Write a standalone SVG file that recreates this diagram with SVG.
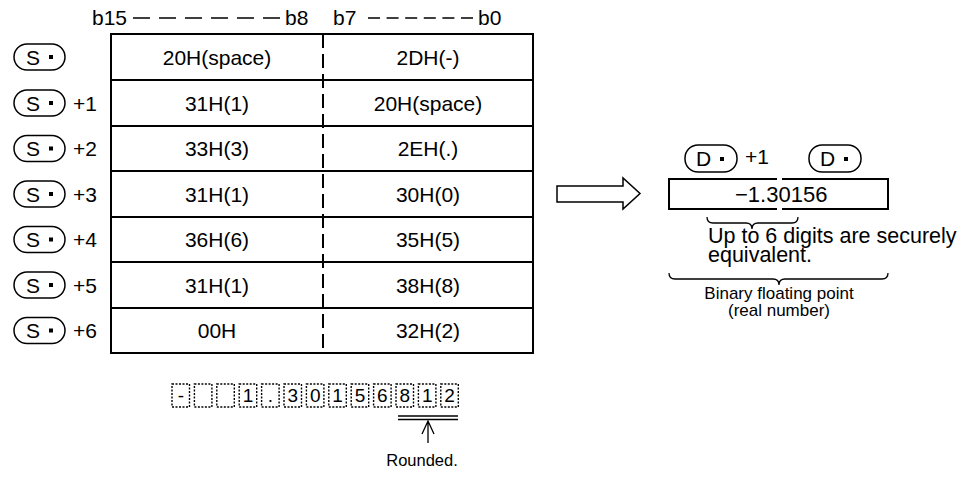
<svg xmlns="http://www.w3.org/2000/svg" width="974" height="477" viewBox="0 0 974 477">
<style>
text{font-family:"Liberation Sans",Arial,sans-serif;font-size:21px;fill:#000}
.c{text-anchor:middle}
.ln{stroke:#000;stroke-width:2;fill:none}
.thin{stroke:#000;stroke-width:1.3;fill:none}
.pill{fill:#fff;stroke:#000;stroke-width:1.5}
.dot{fill:#000}
.db{fill:#fff;stroke:#000;stroke-width:1.4;stroke-dasharray:2 1.5}
.dg{font-size:19px;text-anchor:middle}
.sm{font-size:16.5px}
.md{font-size:17px}
</style>
<defs>
<g id="spill">
<rect x="0" y="-13" width="51" height="26" rx="13" class="pill"/>
<text x="12" y="7.5">S</text>
<rect x="35" y="-2" width="4" height="4" class="dot"/>
</g>
<g id="dpill">
<rect x="0" y="-13" width="52" height="27" rx="13" class="pill"/>
<text x="11" y="8">D</text>
<rect x="35" y="-1" width="4" height="4" class="dot"/>
</g>
</defs>
<rect width="974" height="477" fill="#fff"/>

<g id="header">
<text x="92" y="25">b15</text>
<line x1="133" y1="18" x2="280" y2="18" stroke="#000" stroke-width="1.5" stroke-dasharray="17 9"/>
<text x="285" y="25">b8</text>
<text x="333" y="25">b7</text>
<line x1="368" y1="18" x2="473" y2="18" stroke="#000" stroke-width="1.5" stroke-dasharray="12 6.6"/>
<text x="478" y="25">b0</text>
</g>

<g id="table">
<path class="ln" d="M111,34 H533 V353 H111 Z"/>
<path class="ln" d="M111,80 H533 M111,126 H533 M111,171 H533 M111,217 H533 M111,262 H533 M111,308 H533"/>
<line x1="323" y1="34" x2="323" y2="353" class="ln" stroke-dasharray="14 6"/>
<text class="c" x="217" y="64.5">20H(space)</text><text class="c" x="428" y="64.5">2DH(-)</text>
<text class="c" x="217" y="110.5">31H(1)</text><text class="c" x="428" y="110.5">20H(space)</text>
<text class="c" x="217" y="156">33H(3)</text><text class="c" x="428" y="156">2EH(.)</text>
<text class="c" x="217" y="201.5">31H(1)</text><text class="c" x="428" y="201.5">30H(0)</text>
<text class="c" x="217" y="247">36H(6)</text><text class="c" x="428" y="247">35H(5)</text>
<text class="c" x="217" y="292.5">31H(1)</text><text class="c" x="428" y="292.5">38H(8)</text>
<text class="c" x="217" y="338">00H</text><text class="c" x="428" y="338">32H(2)</text>
</g>

<g id="labels">
<use href="#spill" x="14" y="57"/>
<use href="#spill" x="14" y="103"/><text x="73" y="110.5">+1</text>
<use href="#spill" x="14" y="148.5"/><text x="73" y="156">+2</text>
<use href="#spill" x="14" y="194"/><text x="73" y="201.5">+3</text>
<use href="#spill" x="14" y="239.5"/><text x="73" y="247">+4</text>
<use href="#spill" x="14" y="285"/><text x="73" y="292.5">+5</text>
<use href="#spill" x="14" y="330.5"/><text x="73" y="338">+6</text>
</g>

<g id="connectors">
<path d="M557,186 H623 V178 L640,193.5 L623,209 V202 H557 Z" fill="#fff" stroke="#000" stroke-width="1.5"/>
<path class="thin" d="M428,443 V422 M422,434 L428,421 L434,434" stroke-width="1.5"/>
<path class="thin" d="M398,416 H458 M398,419.5 H458" stroke-width="1.5"/>
</g>

<g id="result">
<use href="#dpill" x="685" y="158"/><text x="745" y="164">+1</text>
<use href="#dpill" x="809" y="158"/>
<path class="ln" d="M777,179 H669 V209 H777 M782,179 H888 V209 H782"/>
<text x="735" y="202" style="font-size:22px">−1.30156</text>
<path class="thin" d="M707,217 Q707,223 713,223 H746 Q752,223 752,229 Q752,223 758,223 H792 Q798,223 798,217"/>
<text x="708" y="243" style="font-size:21.5px">Up to 6 digits are securely</text>
<text x="708" y="262" style="font-size:21.5px">equivalent.</text>
<path class="thin" d="M669,273 Q669,279 675,279 H773 Q779,279 779,285 Q779,279 785,279 H882 Q888,279 888,273"/>
<text class="c md" x="779" y="299">Binary floating point</text>
<text class="c md" x="779" y="316">(real number)</text>
</g>

<g id="digits">
<rect class="db" x="172" y="384" width="17.5" height="23"/>
<rect class="db" x="194.4" y="384" width="17.5" height="23"/>
<rect class="db" x="216.8" y="384" width="17.5" height="23"/>
<rect class="db" x="239.2" y="384" width="17.5" height="23"/>
<rect class="db" x="261.6" y="384" width="17.5" height="23"/>
<rect class="db" x="284" y="384" width="17.5" height="23"/>
<rect class="db" x="306.4" y="384" width="17.5" height="23"/>
<rect class="db" x="328.8" y="384" width="17.5" height="23"/>
<rect class="db" x="351.2" y="384" width="17.5" height="23"/>
<rect class="db" x="373.6" y="384" width="17.5" height="23"/>
<rect class="db" x="396" y="384" width="17.5" height="23"/>
<rect class="db" x="418.4" y="384" width="17.5" height="23"/>
<rect class="db" x="440.8" y="384" width="17.5" height="23"/>
<text class="dg" x="180.8" y="402">-</text>
<text class="dg" x="248" y="402">1</text>
<text class="dg" x="270.4" y="402">.</text>
<text class="dg" x="292.8" y="402">3</text>
<text class="dg" x="315.2" y="402">0</text>
<text class="dg" x="337.6" y="402">1</text>
<text class="dg" x="360" y="402">5</text>
<text class="dg" x="382.4" y="402">6</text>
<text class="dg" x="404.8" y="402">8</text>
<text class="dg" x="427.2" y="402">1</text>
<text class="dg" x="449.6" y="402">2</text>
<text class="c sm" x="422" y="466">Rounded.</text>
</g>
</svg>
